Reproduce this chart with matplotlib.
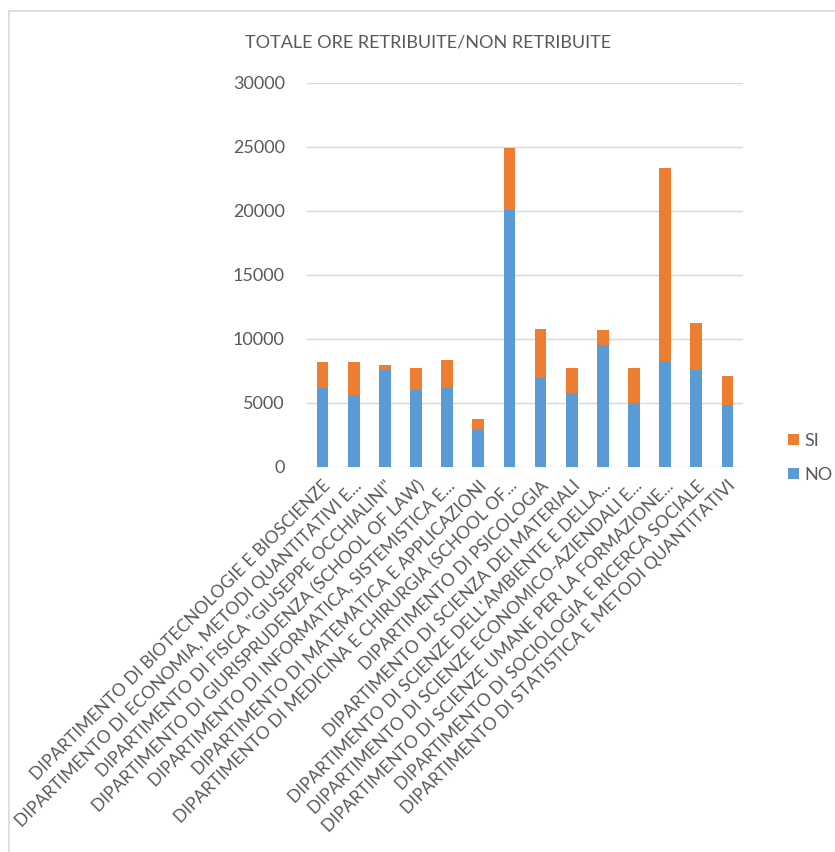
import numpy as np
import matplotlib.pyplot as plt
from matplotlib.lines import Line2D

# Department names (as shown, truncated like the original)
departments = [
    "DIPARTIMENTO DI BIOTECNOLOGIE E BIOSCIENZE",
    "DIPARTIMENTO DI ECONOMIA, METODI QUANTITATIVI E...",
    "DIPARTIMENTO DI FISICA \"GIUSEPPE OCCHIALINI\"",
    "DIPARTIMENTO DI GIURISPRUDENZA (SCHOOL OF LAW)",
    "DIPARTIMENTO DI INFORMATICA, SISTEMISTICA E...",
    "DIPARTIMENTO DI MATEMATICA E APPLICAZIONI",
    "DIPARTIMENTO DI MEDICINA E CHIRURGIA (SCHOOL OF...",
    "DIPARTIMENTO DI PSICOLOGIA",
    "DIPARTIMENTO DI SCIENZA DEI MATERIALI",
    "DIPARTIMENTO DI SCIENZE DELL'AMBIENTE E DELLA...",
    "DIPARTIMENTO DI SCIENZE ECONOMICO-AZIENDALI E...",
    "DIPARTIMENTO DI SCIENZE UMANE PER LA FORMAZIONE...",
    "DIPARTIMENTO DI SOCIOLOGIA E RICERCA SOCIALE",
    "DIPARTIMENTO DI STATISTICA E METODI QUANTITATIVI",
]

# Hours not paid (NO) and paid (SI)
ore_no = [6160, 5640, 7540, 5980, 6160, 2910, 20070, 6940, 5770, 9540, 4940, 8240, 7540, 4840]
ore_si = [2050, 2570, 410, 1710, 2210, 780, 4810, 3850, 1920, 1140, 2750, 15130, 3690, 2280]

yticks = [0, 5000, 10000, 15000, 20000, 25000, 30000]

blue = "#5B9BD5"
orange = "#ED7D31"
text_col = "#595959"
grid_col = "#D9D9D9"

plt.rcParams['font.family'] = ['Lato', 'DejaVu Sans']

fig = plt.figure(figsize=(8.35, 8.52), dpi=100)
ax = fig.add_axes([307 / 835, 1 - 466.7 / 852, (743 - 307) / 835, (466.7 - 82.7) / 852])

x = np.arange(len(departments))
ax.bar(x, ore_no, width=0.38, color=blue, label="NO", zorder=3)
ax.bar(x, ore_si, width=0.38, bottom=ore_no, color=orange, label="SI", zorder=3)

ax.set_xlim(-0.5, 13.5)
ax.set_ylim(0, 30000)
ax.set_yticks(yticks)
ax.set_yticklabels([str(v) for v in yticks], fontsize=13, color=text_col)
ax.yaxis.grid(True, color=grid_col, linewidth=1)
ax.set_axisbelow(True)
for s in ax.spines.values():
    s.set_visible(False)
ax.tick_params(axis='y', length=0, pad=16)
ax.tick_params(axis='x', length=0, pad=8)

ax.set_xticks(x)
ax.set_xticklabels(departments, rotation=45, ha='right', rotation_mode='anchor',
                   fontsize=12.5, color=text_col)

fig.text(428 / 835, 1 - 42 / 852, "TOTALE ORE RETRIBUITE/NON RETRIBUITE",
         ha='center', va='center', fontsize=13, color=text_col)

handles, labels = ax.get_legend_handles_labels()
leg = fig.legend(handles[::-1], labels[::-1], loc='center left',
                 bbox_to_anchor=(772 / 835, 1 - 458 / 852), frameon=False,
                 fontsize=13, handlelength=0.6, handleheight=0.6,
                 handletextpad=0.3, labelspacing=1.0, labelcolor=text_col)

# light frame around the chart area (top and left visible in the crop)
fig.add_artist(Line2D([8.5 / 835, 1], [1 - 10.7 / 852, 1 - 10.7 / 852],
                      transform=fig.transFigure, color=grid_col, linewidth=1.2))
fig.add_artist(Line2D([8.5 / 835, 8.5 / 835], [0, 1 - 10.7 / 852],
                      transform=fig.transFigure, color=grid_col, linewidth=1.2))

fig.savefig("out.png", dpi=100)
